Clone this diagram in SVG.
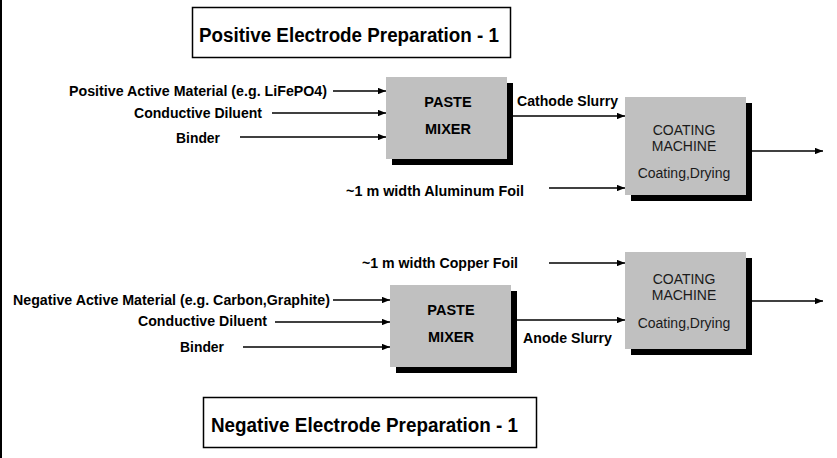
<svg xmlns="http://www.w3.org/2000/svg" width="837" height="458" viewBox="0 0 837 458">
<style>
.b{font-family:"Liberation Sans",Arial,sans-serif;font-weight:bold;font-size:14.5px;fill:#000}
.r{font-family:"Liberation Sans",Arial,sans-serif;font-size:14px;fill:#1a1a1a}
.t{font-family:"Liberation Sans",Arial,sans-serif;font-weight:bold;fill:#000}
.box{fill:#c0c0c0}
.sh{fill:#000}
.tb{fill:#fff;stroke:#000;stroke-width:1.5}
.c line{stroke:#000;stroke-width:1.3;marker-end:url(#ah)}
</style>
<defs>
<marker id="ah" viewBox="0 0 10 8" refX="10" refY="4" markerWidth="8" markerHeight="6.4" markerUnits="userSpaceOnUse" orient="auto">
<path d="M0,0 L10,4 L0,8 z" fill="#000"/>
</marker>
</defs>
<rect width="837" height="458" fill="#fff"/>
<line x1="1" y1="0" x2="1" y2="458" stroke="#000" stroke-width="2"/>

<g id="title-positive">
<rect class="tb" x="192.5" y="7.5" width="318" height="50"/>
<text class="t" x="199" y="42" font-size="20" textLength="300" lengthAdjust="spacingAndGlyphs">Positive Electrode Preparation - 1</text>
</g>
<g id="title-negative">
<rect class="tb" x="203.5" y="397.5" width="333" height="50"/>
<text class="t" x="211" y="432" font-size="21" textLength="307" lengthAdjust="spacingAndGlyphs">Negative Electrode Preparation - 1</text>
</g>

<g id="labels">
<text class="b" x="69" y="96" textLength="258" lengthAdjust="spacingAndGlyphs">Positive Active Material (e.g. LiFePO4)</text>
<text class="b" x="134" y="118" textLength="128" lengthAdjust="spacingAndGlyphs">Conductive Diluent</text>
<text class="b" x="176" y="143" textLength="44" lengthAdjust="spacingAndGlyphs">Binder</text>
<text class="b" x="517" y="106" textLength="101" lengthAdjust="spacingAndGlyphs">Cathode Slurry</text>
<text class="b" x="346" y="196" textLength="178" lengthAdjust="spacingAndGlyphs">~1 m width Aluminum Foil</text>
<text class="b" x="362" y="268" textLength="156" lengthAdjust="spacingAndGlyphs">~1 m width Copper Foil</text>
<text class="b" x="13" y="305" textLength="317" lengthAdjust="spacingAndGlyphs">Negative Active Material (e.g. Carbon,Graphite)</text>
<text class="b" x="138" y="326" textLength="129" lengthAdjust="spacingAndGlyphs">Conductive Diluent</text>
<text class="b" x="180" y="352" textLength="44" lengthAdjust="spacingAndGlyphs">Binder</text>
<text class="b" x="523" y="343" textLength="89" lengthAdjust="spacingAndGlyphs">Anode Slurry</text>
</g>

<g id="mixer-positive">
<rect class="sh" x="392" y="83" width="121" height="82"/>
<rect class="box" x="386" y="77" width="121" height="82"/>
<text class="b" x="448" y="107" text-anchor="middle">PASTE</text>
<text class="b" x="448" y="134" text-anchor="middle">MIXER</text>
</g>
<g id="coater-positive">
<rect class="sh" x="631" y="103" width="121" height="98"/>
<rect class="box" x="625" y="97" width="121" height="98"/>
<text class="r" x="684" y="135" text-anchor="middle">COATING</text>
<text class="r" x="684" y="151" text-anchor="middle">MACHINE</text>
<text class="r" x="684" y="178" text-anchor="middle">Coating,Drying</text>
</g>
<g id="mixer-negative">
<rect class="sh" x="396" y="291" width="121" height="82"/>
<rect class="box" x="390" y="285" width="121" height="82"/>
<text class="b" x="451" y="315" text-anchor="middle">PASTE</text>
<text class="b" x="451" y="342" text-anchor="middle">MIXER</text>
</g>
<g id="coater-negative">
<rect class="sh" x="631" y="258" width="121" height="97"/>
<rect class="box" x="625" y="252" width="121" height="97"/>
<text class="r" x="684" y="284" text-anchor="middle">COATING</text>
<text class="r" x="684" y="300" text-anchor="middle">MACHINE</text>
<text class="r" x="684" y="328" text-anchor="middle">Coating,Drying</text>
</g>

<g id="connectors" class="c">
<line x1="333" y1="91" x2="386" y2="91"/>
<line x1="272" y1="113" x2="386" y2="113"/>
<line x1="240" y1="137" x2="386" y2="137"/>
<line x1="507" y1="116" x2="625" y2="116"/>
<line x1="549" y1="188" x2="625" y2="188"/>
<line x1="746" y1="151" x2="823" y2="151"/>
<line x1="549" y1="263" x2="625" y2="263"/>
<line x1="333" y1="300" x2="390" y2="300"/>
<line x1="275" y1="322" x2="390" y2="322"/>
<line x1="243" y1="347" x2="390" y2="347"/>
<line x1="511" y1="320" x2="625" y2="320"/>
<line x1="746" y1="301" x2="823" y2="301"/>
</g>
</svg>
